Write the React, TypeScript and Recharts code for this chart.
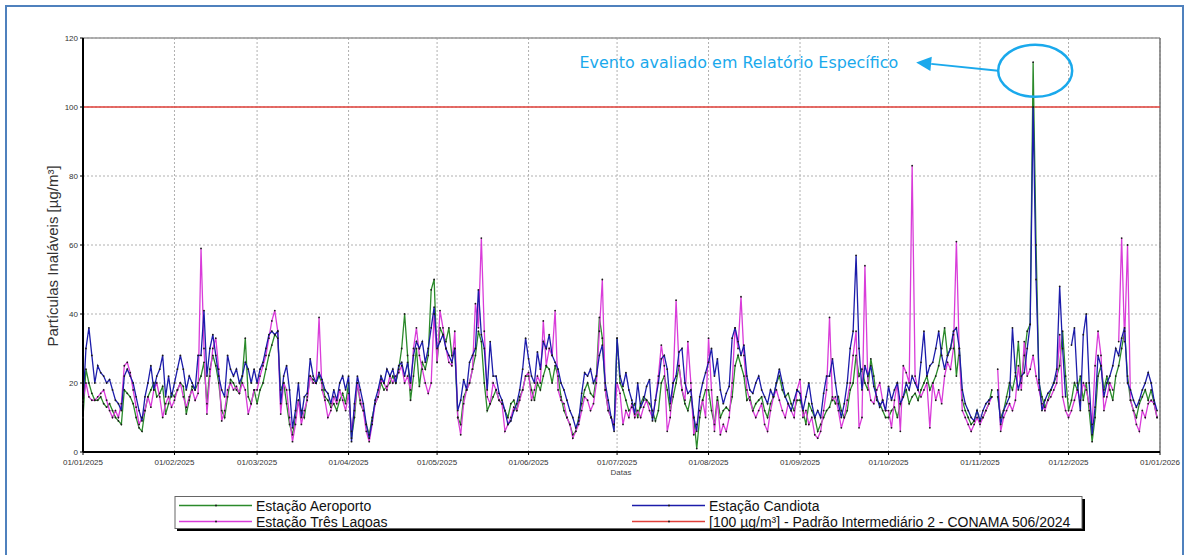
import React from 'react';
import { LineChart, Line, XAxis, YAxis, CartesianGrid, ReferenceLine, ReferenceDot } from 'recharts';

// Month start positions (day index of 2025) and their labels
const monthTicks = [0, 31, 59, 90, 120, 151, 181, 212, 243, 273, 304, 334, 365];
const monthLabels = [
  '01/01/2025', '01/02/2025', '01/03/2025', '01/04/2025', '01/05/2025', '01/06/2025',
  '01/07/2025', '01/08/2025', '01/09/2025', '01/10/2025', '01/11/2025', '01/12/2025', '01/01/2026',
];
const yTicks = [0, 20, 40, 60, 80, 100, 120];
const limitValue = 100;
const eventDay = 322.7;
const eventLevel = 110.5;

const seriesNames = {
  aeroporto: 'Estação Aeroporto',
  candiota: 'Estação Candiota',
  tresLagoas: 'Estação Três Lagoas',
  limite: '[100 µg/m³] - Padrão Intermediário 2 - CONAMA 506/2024',
};

// Estação Aeroporto, daily values (µg/m³)
const aeroporto: (number | null)[] = [
  // Jan
  10, 24, 20, 17, 15, 15, 16, 14, 13, 14, 12, 10, 9, 8, 18, 17, 16, 14, 10, 7, 6, 12, 16, 18, 20, 16, 17, 19, 11, 14, 17,
  // Feb
  16, 18, 20, 19, 11, 15, 19, 18, 20, 22, 26, 14, 24, 28, 25, 20, 12, 10, 16, 21, 20, 18, 17, 22, 33, 16, 14, 18,
  // Mar
  14, 18, 20, 24, 28, 31, 34, 33, 18, 20, 14, 8, 5, 10, 15, 12, 10, 16, 22, 21, 20, 22, 20, 16, 15, 13, 14, 12, 15, 17, 14,
  // Apr
  20, 4, 10, 20, 14, 12, 8, 5, 10, 14, 16, 20, 18, 19, 20, 22, 20, 24, 30, 40, 28, 15, 22, 30, 19, 26, 24, 28, 47, 50,
  // May
  26, 36, 34, 32, 36, 28, 30, 10, 8, 16, 18, 20, 24, 28, 35, 32, 20, 12, 14, 16, 18, 15, 14, 12, 10, 14, 15, 12, 16, 18, 22,
  // Jun
  22, 18, 15, 20, 18, 22, 25, 24, 20, 25, 22, 16, 12, 10, 8, 5, 6, 10, 14, 18, 20, 17, 16, 22, 39, 33, 18, 12, 10, 8,
  // Jul
  33, 20, 18, 15, 12, 13, 14, 10, 14, 16, 15, 14, 12, 9, 12, 20, 22, 18, 12, 16, 20, 25, 18, 14, 12, 16, 10, 1, 10, 15, 18,
  // Aug
  18, 12, 8, 16, 10, 12, 13, 12, 16, 25, 28, 25, 22, 15, 16, 12, 14, 15, 16, 12, 10, 14, 16, 20, 22, 18, 16, 17, 14, 12, 15,
  // Sep
  15, 12, 8, 14, 12, 10, 6, 8, 10, 12, 13, 16, 14, 16, 12, 10, 12, 18, 20, 28, 22, 24, 20, 18, 27, 22, 15, 14, 12, 10,
  // Oct
  10, 12, 13, 10, 14, 16, 18, 14, 16, 17, 15, 18, 20, 22, 18, 20, 22, 25, 30, 36, 28, 30, 34, 22, 30, 15, 12, 10, 8, 9, 12,
  // Nov
  9, 10, 12, 14, 18, null, 16, 10, 12, 16, 20, 18, 22, 32, 20, 28, 35, 37, 113, 60, 20, 16, 13, 15, 18, 20, 22, 25, 35, 22,
  // Dec
  12, 15, 20, 18, 22, 15, 20, 12, 3, 10, 22, 25, 18, 22, 18, 15, 22, 25, 30, 35, 22, 15, 12, 10, 14, 16, 18, 15, 18, 14, 10,
];

// Estação Candiota, daily values (µg/m³)
const candiota: (number | null)[] = [
  // Jan
  14, 30, 36, 28, 20, 25, 23, 22, 20, 21, 18, 15, 14, 12, 22, 24, 22, 20, 16, 12, 9, 16, 20, 25, 18, 22, 24, 28, 16, 22, 16,
  // Feb
  20, 24, 28, 24, 18, 22, 20, 18, 28, 28, 41, 22, 30, 34, 28, 22, 18, 16, 28, 24, 22, 24, 20, 22, 26, 24, 20, 24,
  // Mar
  20, 24, 26, 30, 34, 35, 34, 35, 14, 22, 25, 18, 7, 12, 20, 10, 16, 17, 27, 22, 20, 23, 21, 18, 17, 14, 18, 15, 20, 22, 18,
  // Apr
  22, 3, 14, 22, 18, 14, 8, 4, 9, 15, 18, 22, 20, 24, 22, 24, 20, 25, 26, 22, 26, 20, 28, 32, 30, 32, 26, 30, 36, 42,
  // May
  30, 32, 34, 30, 28, 26, 30, 12, 15, 21, 18, 26, 28, 30, 47, 34, 30, 18, 32, 22, 22, 17, 15, 12, 8, 9, 12, 14, 18, 24, 33,
  // Jun
  27, 22, 20, 29, 24, 32, 30, 34, 28, 26, 24, 20, 18, 15, 12, 10, 7, 9, 17, 23, 22, 24, 20, 22, 28, 31, 20, 15, 10, 6,
  // Jul
  33, 22, 19, 23, 18, 15, 11, 20, 13, 15, 19, 21, 9, 15, 20, 27, 28, 24, 14, 20, 22, 29, 30, 20, 17, 18, 10, 6, 16, 20, 23,
  // Aug
  26, 30, 22, 27, 18, 14, 17, 19, 33, 36, 32, 28, 31, 22, 18, 17, 20, 22, 18, 16, 14, 18, 16, 20, 24, 20, 16, 14, 12, 15, 18,
  // Sep
  17, 12, 16, 20, 14, 10, 12, 10, 17, 22, 22, 27, 20, 14, 10, 14, 20, 30, 35, 57, 30, 18, 25, 22, 25, 19, 16, 13, 15, 12,
  // Oct
  19, 15, 18, 20, 14, 16, 20, 18, 22, 20, 18, 26, 35, 22, 25, 26, 30, 35, 28, 24, 28, 30, 35, 36, 30, 18, 14, 12, 10, 9, 12,
  // Nov
  9, 12, 14, 15, 16, null, 18, 8, 12, 14, 16, 36, 23, 18, 22, 23, 30, 37, 100, 50, 21, 12, 15, 17, 18, 20, 24, 48, 30, 16,
  // Dec
  null, 31, 36, 20, 12, 34, 40, 20, 5, 13, 28, 25, 16, 20, 22, 25, 30, 28, 33, 36, 20, 18, 15, 13, 15, 18, 20, 23, 20, 15, 12,
];

// Estação Três Lagoas, daily values (µg/m³)
const tresLagoas: (number | null)[] = [
  // Jan
  15, 20, 16, 15, 15, 16, 17, 18, 15, 12, 10, 12, 10, 14, 25, 26, 23, 18, 13, 8, 10, 12, 16, 13, 18, 20, 16, 10, 14, 16, 13,
  // Feb
  15, 18, 20, 16, 13, 16, 18, 15, 17, 59, 30, 11, 22, 30, 33, 24, 9, 12, 18, 20, 18, 19, 17, 20, 18, 11, 14, 18,
  // Mar
  18, 22, 25, 28, 33, 38, 41, 35, 11, 20, 18, 10, 3, 8, 15, 8, 12, 15, 22, 20, 20, 39, 18, 15, 10, 12, 16, 14, 18, 15, 12,
  // Apr
  17, 6, 12, 20, 15, 12, 6, 3, 8, 14, 16, 21, 20, 18, 22, 20, 22, 23, 25, 20, 22, 18, 30, 36, 28, 24, 20, 17, 20, 40,
  // May
  26, 41, 36, 30, 26, 25, 35, 10, 5, 14, 18, 20, 24, 43, 36, 62, 35, 16, 14, 20, 18, 15, 14, 6, 8, 10, 13, 12, 15, 18, 22,
  // Jun
  23, 15, 18, 22, 20, 38, 25, 30, 28, 41, 18, 15, 14, 10, 8, 4, 6, 8, 12, 16, 15, 12, 14, 20, 35, 50, 18, 12, 10, 8,
  // Jul
  20, 17, 8, 12, 10, 14, 10, 12, 10, 13, 15, 12, 10, 15, 22, 31, 25, 6, 10, 20, 44, 25, 18, 15, 32, 20, 5, 8, 12, 15, 10,
  // Aug
  33, 18, 6, 15, 5, 8, 6, 10, 20, 36, 30, 45, 28, 18, 15, 12, 10, 12, 14, 8, 6, 12, 16, 18, 15, 12, 10, 14, 12, 10, 18,
  // Sep
  21, 10, 12, 8, 10, 5, 4, 6, 12, 18, 39, 15, 16, 12, 7, 10, 15, 20, 28, 35, 7, 10, 54, 20, 15, 14, 18, 20, 15, 12,
  // Oct
  12, 7, 15, 20, 6, 25, 23, 20, 83, 22, 18, 16, 18, 20, 7, 20, 15, 18, 14, 22, 26, 24, 30, 61, 28, 12, 10, 8, 6, 8, 10,
  // Nov
  8, 10, 12, 14, 16, null, 24, 6, 10, 12, 14, 12, 15, 25, 18, 32, 22, 24, 28, 22, 18, 14, 12, 15, 16, 18, 20, 34, 16, 12,
  // Dec
  10, 12, 15, 18, 15, 20, 18, 14, 8, 25, 35, 28, 12, 16, 20, 18, null, 32, 62, 32, 60, 15, 12, 8, 6, 12, 10, 14, 15, 14, 10,
];

const colors = {
  aeroporto: '#2b8a2b',
  candiota: '#1c1caa',
  tresLagoas: '#d93cd9',
  limite: '#e0403a',
  annot: '#1aa9ec',
};

const data = aeroporto.map((v, i) => ({
  day: i,
  aeroporto: v,
  candiota: candiota[i] ?? null,
  tresLagoas: tresLagoas[i] ?? null,
}));

const FONT = '"Liberation Sans", Arial, sans-serif';

const dotStyle = { r: 0.9, fill: '#1a1a1a', stroke: 'none', strokeWidth: 0 };

const EventShape = (props: any) => {
  const { cx, cy } = props;
  if (cx == null || cy == null) return null;
  return (
    <g>
      <ellipse cx={cx} cy={cy} rx={37} ry={26} fill="none" stroke={colors.annot} strokeWidth={2.5} />
      <line x1={cx - 37} y1={cy} x2={cx - 104} y2={cy - 6.9} stroke={colors.annot} strokeWidth={2} />
      <polygon
        points={`${cx - 119},${cy - 8.4} ${cx - 103.4},${cy - 14} ${cx - 104.8},${cy + 0.2}`}
        fill={colors.annot}
      />
      <text
        x={cx - 137}
        y={cy - 3}
        textAnchor="end"
        fontFamily='"DejaVu Sans", Verdana, sans-serif'
        fontSize={15.9}
        fill={colors.annot}
      >
        Evento avaliado em Relatório Específico
      </text>
    </g>
  );
};

const LegendItem = ({ x, y, color, label }: { x: number; y: number; color: string; label: string }) => (
  <g>
    <line x1={x} y1={y} x2={x + 73} y2={y} stroke={color} strokeWidth={1.5} />
    <circle cx={x + 37} cy={y} r={1} fill="#1a1a1a" />
    <text x={x + 77} y={y + 5} fontFamily={FONT} fontSize={14} fill="#111">
      {label}
    </text>
  </g>
);

export default function App() {
  return (
    <div
      style={{
        position: 'absolute',
        left: 0,
        top: 0,
        width: 1187,
        height: 555,
        overflow: 'hidden',
        background: '#fff',
      }}
    >
      <div
        style={{
          position: 'absolute',
          left: 5,
          top: 5,
          width: 1179,
          height: 600,
          border: '2px solid #4f81bd',
          boxSizing: 'border-box',
        }}
      />
      <div style={{ position: 'absolute', left: 0, top: 0 }}>
        <LineChart
          width={1187}
          height={555}
          data={data}
          margin={{ top: 38, right: 27, bottom: 83, left: 33 }}
        >
          <CartesianGrid stroke="#b0b0b0" strokeDasharray="2 2" />
          <XAxis
            dataKey="day"
            type="number"
            domain={[0, 365]}
            ticks={monthTicks}
            interval={0}
            tickFormatter={(v: number) => monthLabels[monthTicks.indexOf(v)] ?? ''}
            height={20}
            axisLine={{ stroke: '#000', strokeWidth: 2 }}
            tickLine={{ stroke: '#000' }}
            tickSize={3}
            tickMargin={4}
            tick={{ fontSize: 8, fill: '#333', fontFamily: FONT }}
          />
          <YAxis
            type="number"
            domain={[0, 120]}
            ticks={yTicks}
            interval={0}
            width={50}
            axisLine={{ stroke: '#000', strokeWidth: 2 }}
            tickLine={{ stroke: '#000' }}
            tickSize={3}
            tickMargin={2}
            tick={{ fontSize: 8, fill: '#333', fontFamily: FONT }}
          />
          <ReferenceLine y={120} stroke="#999" strokeWidth={1.5} />
          <ReferenceLine x={365} stroke="#777" strokeWidth={1.5} />
          <ReferenceLine y={limitValue} stroke={colors.limite} strokeWidth={1.5} />
          <Line
            type="linear"
            dataKey="aeroporto"
            name={seriesNames.aeroporto}
            stroke={colors.aeroporto}
            strokeWidth={1.3}
            dot={dotStyle}
            activeDot={false}
            isAnimationActive={false}
          />
          <Line
            type="linear"
            dataKey="tresLagoas"
            name={seriesNames.tresLagoas}
            stroke={colors.tresLagoas}
            strokeWidth={1.3}
            dot={dotStyle}
            activeDot={false}
            isAnimationActive={false}
          />
          <Line
            type="linear"
            dataKey="candiota"
            name={seriesNames.candiota}
            stroke={colors.candiota}
            strokeWidth={1.3}
            dot={dotStyle}
            activeDot={false}
            isAnimationActive={false}
          />
          <ReferenceDot x={eventDay} y={eventLevel} r={0} shape={EventShape} ifOverflow="visible" />
        </LineChart>
      </div>
      <svg
        width={1187}
        height={555}
        style={{ position: 'absolute', left: 0, top: 0, pointerEvents: 'none' }}
      >
        <text
          x={52}
          y={256}
          transform="rotate(-90 52 256)"
          textAnchor="middle"
          dominantBaseline="central"
          fontFamily={FONT}
          fontSize={15}
          fill="#333"
        >
          Partículas Inaláveis [µg/m³]
        </text>
        <text x={621} y={475} textAnchor="middle" fontFamily={FONT} fontSize={8} fill="#444">
          Datas
        </text>
        {/* legend box with shadow */}
        <rect x={177} y={499} width={908} height={32} fill="#000" />
        <rect x={175} y={496.5} width={907} height={32} fill="#fff" stroke="#666" strokeWidth={1} />
        <LegendItem x={179} y={505.5} color={colors.aeroporto} label={seriesNames.aeroporto} />
        <LegendItem x={179} y={521.5} color={colors.tresLagoas} label={seriesNames.tresLagoas} />
        <LegendItem x={632} y={505.5} color={colors.candiota} label={seriesNames.candiota} />
        <LegendItem x={632} y={521.5} color={colors.limite} label={seriesNames.limite} />
      </svg>
    </div>
  );
}
